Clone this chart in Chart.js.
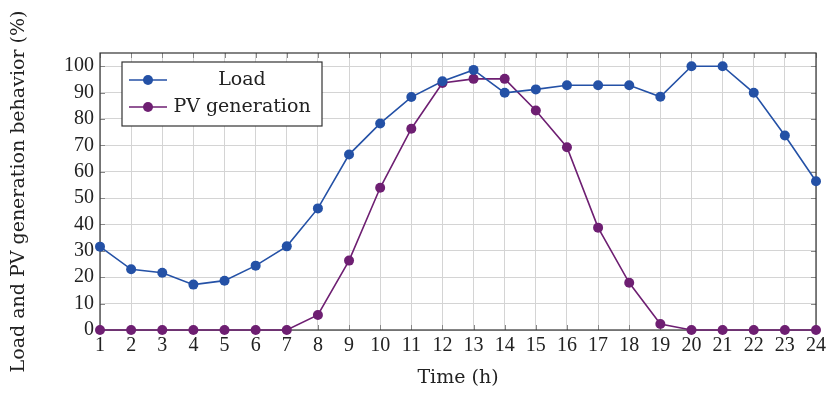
<!DOCTYPE html>
<html>
<head>
<meta charset="utf-8">
<script src="https://cdn.jsdelivr.net/npm/chart.js@4.4.0/dist/chart.umd.min.js"></script>
<style>
  html, body { margin: 0; padding: 0; background: #fff; }
  #wrap { width: 839px; height: 393px; position: relative; }
</style>
</head>
<body>
<div id="wrap"><canvas id="chart"></canvas></div>
<script>
const hours = [1, 2, 3, 4, 5, 6, 7, 8, 9, 10, 11, 12, 13, 14, 15, 16, 17, 18, 19, 20, 21, 22, 23, 24];
const loadValues = [31.6, 23.0, 21.7, 17.2, 18.7, 24.4, 31.7, 46.1, 66.5, 78.3, 88.3, 94.3, 98.6, 89.9, 91.2, 92.8, 92.8, 92.8, 88.4, 100, 100, 89.9, 73.7, 56.4];
const pvValues = [0, 0, 0, 0, 0, 0, 0, 5.7, 26.3, 53.9, 76.3, 93.6, 95.2, 95.2, 83.2, 69.3, 38.8, 17.9, 2.3, 0, 0, 0, 0, 0];
const yTicks = [0, 10, 20, 30, 40, 50, 60, 70, 80, 90, 100];

const loadColor = '#2451a6';
const pvColor = '#6e1f72';
const numFont = '"Liberation Serif", serif';
const textFont = '"DejaVu Serif", serif';

// frame, inner tick marks and legend box (pgfplots look)
const framePlugin = {
  id: 'frame',
  beforeDatasetsDraw(chart) {
    const { ctx, chartArea: a, scales } = chart;
    ctx.save();
    ctx.strokeStyle = '#888';
    ctx.lineWidth = 1;
    ctx.beginPath();
    hours.forEach((h, i) => {
      const x = Math.round(scales.x.getPixelForValue(i)) + 0.5;
      ctx.moveTo(x, a.top); ctx.lineTo(x, a.top + 5);
      ctx.moveTo(x, a.bottom); ctx.lineTo(x, a.bottom - 5);
    });
    yTicks.forEach(v => {
      const y = Math.round(scales.y.getPixelForValue(v)) + 0.5;
      ctx.moveTo(a.left, y); ctx.lineTo(a.left + 5, y);
      ctx.moveTo(a.right, y); ctx.lineTo(a.right - 5, y);
    });
    ctx.stroke();
    ctx.strokeStyle = '#333';
    ctx.lineWidth = 1.2;
    ctx.strokeRect(a.left, a.top, a.right - a.left, a.bottom - a.top);
    ctx.restore();
  },
  afterDatasetsDraw(chart) {
    const { ctx, chartArea: a } = chart;
    const bx = a.left + 22, by = a.top + 9, bw = 200, bh = 64;
    ctx.save();
    ctx.fillStyle = '#fff';
    ctx.fillRect(bx, by, bw, bh);
    ctx.strokeStyle = '#333';
    ctx.lineWidth = 1.2;
    ctx.strokeRect(bx, by, bw, bh);
    const items = [['Load', loadColor], ['PV generation', pvColor]];
    ctx.font = '19px ' + textFont;
    ctx.textAlign = 'center';
    ctx.textBaseline = 'middle';
    items.forEach(([label, col], i) => {
      const y = by + 18 + i * 27;
      ctx.strokeStyle = col;
      ctx.lineWidth = 1.6;
      ctx.beginPath();
      ctx.moveTo(bx + 7, y); ctx.lineTo(bx + 45, y);
      ctx.stroke();
      ctx.fillStyle = col;
      ctx.beginPath();
      ctx.arc(bx + 26, y, 5, 0, Math.PI * 2);
      ctx.fill();
      ctx.fillStyle = '#222';
      ctx.fillText(label, bx + 120, y);
    });
    ctx.restore();
  }
};

new Chart(document.getElementById('chart'), {
  type: 'line',
  data: {
    labels: hours,
    datasets: [{
      label: 'Load',
      data: loadValues,
      borderColor: loadColor,
      backgroundColor: loadColor,
      borderWidth: 1.6,
      pointRadius: 5,
      pointBorderWidth: 0,
      clip: false
    }, {
      label: 'PV generation',
      data: pvValues,
      borderColor: pvColor,
      backgroundColor: pvColor,
      borderWidth: 1.6,
      pointRadius: 5,
      pointBorderWidth: 0,
      clip: false
    }]
  },
  options: {
    responsive: true,
    maintainAspectRatio: false,
    animation: false,
    layout: { padding: { left: 0, right: 23, top: 53, bottom: 0 } },
    plugins: {
      legend: { display: false },
      tooltip: { enabled: false }
    },
    scales: {
      x: {
        type: 'category',
        offset: false,
        grid: { color: '#d4d4d4', lineWidth: 1, drawTicks: false },
        border: { display: false },
        ticks: {
          color: '#222', font: { family: numFont, size: 20 },
          padding: 4, maxRotation: 0, autoSkip: false
        },
        title: {
          display: true, text: 'Time (h)', color: '#222',
          font: { family: textFont, size: 19 }, padding: { top: 3 }
        },
        afterFit(s) { s.height = 63; }
      },
      y: {
        min: 0,
        max: 105,
        afterBuildTicks(s) { s.ticks = yTicks.map(v => ({ value: v })); },
        grid: { color: '#d4d4d4', lineWidth: 1, drawTicks: false },
        border: { display: false },
        ticks: {
          color: '#222', font: { family: numFont, size: 20 }, padding: 6
        },
        title: {
          display: true, text: 'Load and PV generation behavior (%)', color: '#222',
          font: { family: textFont, size: 19 }, padding: { bottom: 0, top: 8 }
        },
        afterFit(s) { s.width = 100; }
      }
    }
  },
  plugins: [framePlugin]
});
</script>
</body>
</html>
